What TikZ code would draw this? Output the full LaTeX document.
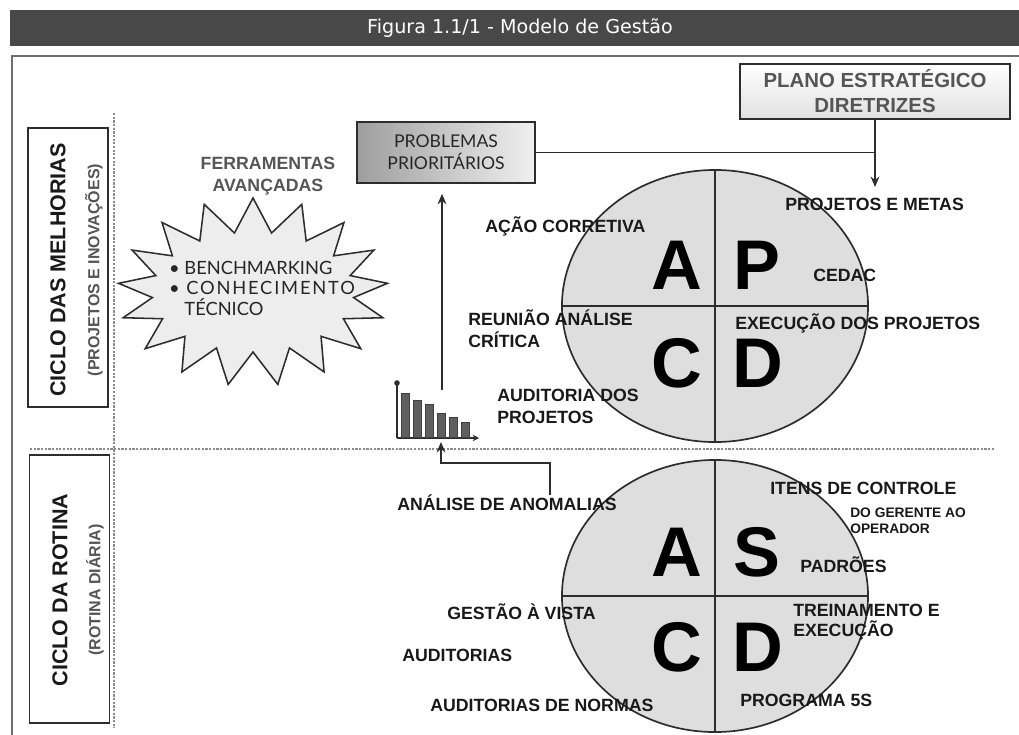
\documentclass[tikz,border=0pt]{standalone}
\usepackage{fontspec}
\setmainfont{Liberation Sans}
\newfontfamily\gillfont{Lato}
\newfontfamily\gillwide[LetterSpace=10]{Lato}
\newfontfamily\titlefont{DejaVu Sans}
\definecolor{titlegray}{RGB}{72,72,72}
\definecolor{linegray}{RGB}{45,45,45}
\definecolor{framegray}{RGB}{110,110,110}
\definecolor{pdcafill}{RGB}{222,222,222}
\definecolor{labelblack}{RGB}{25,25,25}
\definecolor{softgray}{RGB}{85,85,85}
\definecolor{bargray}{RGB}{95,95,95}
\usetikzlibrary{arrows.meta,positioning,shapes.geometric,shapes.symbols,calc}

\begin{document}
\begin{tikzpicture}[x=0.025cm,y=-0.025cm,
  lbl/.style={font=\bfseries\fontsize{12.6}{15.5}\selectfont,text=labelblack,align=left,anchor=west,inner sep=0pt},
  big/.style={font=\bfseries\fontsize{50}{50}\selectfont,text=black,inner sep=0pt},
  cyc/.style={ellipse,draw=linegray,line width=1.2pt,fill=pdcafill,minimum width=7.65cm,minimum height=6.8cm,inner sep=0pt},
  sidebox/.style={draw=linegray,line width=1.3pt,minimum width=2cm},
  arr/.style={-{Stealth[length=2.6mm,width=2.2mm]},line width=1.1pt,draw=linegray},
  link/.style={line width=1.1pt,draw=linegray},
  sep/.style={densely dotted,line width=1.6pt,draw=black!45}]
  \useasboundingbox (0,0) rectangle (1019,735);
  % Title bar and frame
  \fill[titlegray] (10,10) rectangle (1019,46);
  \node[font=\titlefont\fontsize{13.6}{15}\selectfont,text=white] (title) at (520,28) {Figura 1.1/1 - Modelo de Gestão};
  \draw[line width=2pt,framegray] (12,735) -- (12,56) -- (1019,56);
  % Separators
  \draw[sep] (114,113) -- (114,728);
  \draw[sep] (30,449) -- (995,449);
  % Side titles
  \node[sidebox,minimum height=6.975cm] (melhorias) at (68,267.5) {};
  \node[rotate=90,font=\bfseries\fontsize{15.3}{16}\selectfont,text=labelblack] at (58,270) {CICLO DAS MELHORIAS};
  \node[rotate=90,font=\bfseries\fontsize{11.4}{12}\selectfont,text=softgray] at (94,270) {(PROJETOS E INOVAÇÕES)};
  \node[sidebox,minimum height=6.7cm] (rotina) at (69.5,589) {};
  \node[rotate=90,font=\bfseries\fontsize{15.3}{16}\selectfont,text=labelblack] at (60,590) {CICLO DA ROTINA};
  \node[rotate=90,font=\bfseries\fontsize{11.4}{12}\selectfont,text=softgray] at (95,590) {(ROTINA DIÁRIA)};
  % Strategic plan and priority problems
  \node[draw=linegray,line width=1.2pt,top color=white,bottom color=black!12,minimum width=6.75cm,minimum height=1.375cm,
    align=center,font=\bfseries\fontsize{14.5}{17.8}\selectfont,text=softgray] (plano) at (875,91.5) {PLANO ESTRATÉGICO\\DIRETRIZES};
  \node[draw=linegray,line width=1.2pt,left color=black!38,right color=black!6,minimum width=4.45cm,minimum height=1.525cm,
    align=center,font=\gillfont\fontsize{12.5}{15.6}\selectfont,text=black!85] (prob) at (446,152.5) {PROBLEMAS\\PRIORITÁRIOS};
  \coordinate (metas) at (875,187);
  \draw[arr] (plano.south) -- (metas);
  \draw[link] (prob.east) -- (prob.east -| plano.south);
  % Advanced tools
  \node[font=\bfseries\fontsize{12.6}{15.6}\selectfont,text=softgray,align=center] (ferr) at (268,176) {FERRAMENTAS\\AVANÇADAS};
  \node[starburst,starburst points=17,starburst point height=0.85cm,random starburst=0,draw=linegray,line width=1.1pt,
    fill=black!7,minimum width=6.75cm,minimum height=4.7cm,inner sep=0pt] (burst) at (253,292) {};
  \node[align=left,font=\gillfont\fontsize{13}{14.6}\selectfont,text=black!85] (tools) at (262,288)
    {• BENCHMARKING\\{\gillwide • CONHECIMENTO}\\\hphantom{• }TÉCNICO};
  % Pareto chart
  \draw[line width=1pt,linegray,-{Stealth[length=1.6mm,width=1.6mm]}] (397,438) -- (479,438);
  \draw[line width=1pt,linegray] (397,438) -- (397,383);
  \fill[linegray] (397,383) circle[radius=0.07cm];
  \foreach \bx/\bt in {401/393,413/400,425/404,437/413,449/417,461/422}
    \draw[fill=bargray,draw=black!75,line width=0.5pt] (\bx,437) rectangle (\bx+8.5,\bt);
  \coordinate (parTop) at (442,390);
  \coordinate (parBase) at (441,442);
  \draw[arr] (parTop) -- (prob.south -| parTop) [shorten >=0.25cm];
  % PDCA - improvement cycle
  \node[cyc] (pdca) at (715,306) {};
  \draw[link] (pdca.north) -- (pdca.south);
  \draw[link] (pdca.west) -- (pdca.east);
  \node[big] (pA) at (677,265) {A};
  \node[big] (pP) at (757,265) {P};
  \node[big] (pC) at (677,363) {C};
  \node[big] (pD) at (758,363) {D};
  \node[lbl] at (785,204) {PROJETOS E METAS};
  \node[lbl] at (485,226) {AÇÃO CORRETIVA};
  \node[lbl] at (813,275) {CEDAC};
  \node[lbl] at (468,329) {REUNIÃO ANÁLISE\\CRÍTICA};
  \node[lbl] at (735,323) {EXECUÇÃO DOS PROJETOS};
  \node[lbl] at (497,406) {AUDITORIA DOS\\PROJETOS};
  % SDCA - routine cycle
  \node[cyc] (sdca) at (715,596) {};
  \draw[link] (sdca.north) -- (sdca.south);
  \draw[link] (sdca.west) -- (sdca.east);
  \node[big] (sA) at (677,552) {A};
  \node[big] (sS) at (757,552) {S};
  \node[big] (sC) at (677,647) {C};
  \node[big] (sD) at (758,647) {D};
  \node[lbl] at (770,488) {ITENS DE CONTROLE};
  \node[lbl,font=\bfseries\fontsize{9.8}{11.4}\selectfont] at (850,521) {DO GERENTE AO\\OPERADOR};
  \node[lbl] at (800,565) {PADRÕES};
  \node[lbl,font=\bfseries\fontsize{12.6}{14.2}\selectfont] at (793,622) {TREINAMENTO E\\EXECUÇÃO};
  \node[lbl] at (740,700) {PROGRAMA 5S};
  \node[lbl] (anom) at (397,503) {ANÁLISE DE ANOMALIAS};
  \node[lbl] at (447,612) {GESTÃO À VISTA};
  \node[lbl] at (402,655) {AUDITORIAS};
  \node[lbl] at (430,705) {AUDITORIAS DE NORMAS};
  \coordinate (brk) at (550,463);
  \draw[arr] (anom.north -| brk) -- (brk) -| (parBase);
\end{tikzpicture}
\end{document}
